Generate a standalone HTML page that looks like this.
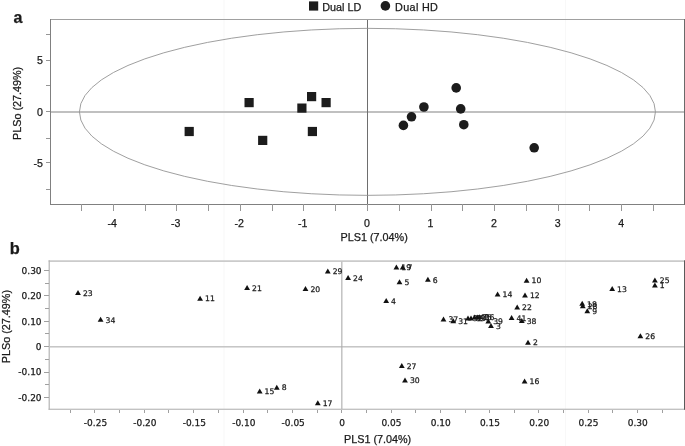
<!DOCTYPE html>
<html><head><meta charset="utf-8"><title>PLS score and loading plots</title>
<style>
html,body{margin:0;padding:0;background:#fff;}
svg{display:block;}
text{font-family:"Liberation Sans",sans-serif;fill:#1a1a1a;stroke:#1a1a1a;stroke-width:0.25px;}
.dj{font-family:"DejaVu Sans","Liberation Sans",sans-serif;}
</style></head><body>
<svg width="685" height="446" viewBox="0 0 685 446">
<rect x="0" y="0" width="685" height="446" fill="#fff"/>
<rect x="223.5" y="0" width="1" height="446" fill="#f8f8f8"/>
<rect x="565" y="0" width="1" height="446" fill="#f8f8f8"/>

<g shape-rendering="crispEdges">
<rect x="51" y="111.1" width="633" height="1.5" fill="#c0c0c0"/>
<rect x="367" y="19" width="1" height="185" fill="#6e6e6e"/>
<rect x="50" y="19" width="634" height="1" fill="#a0a0a0"/>
<rect x="50" y="19" width="1" height="185" fill="#808080"/>
<rect x="50" y="203.5" width="634" height="1" fill="#808080"/>
<rect x="684" y="19" width="1" height="186" fill="#6a6a6a"/>
<rect x="46" y="34.0" width="4" height="1" fill="#969696"/>
<rect x="46" y="59.9" width="4" height="1" fill="#969696"/>
<rect x="46" y="85.0" width="4" height="1" fill="#969696"/>
<rect x="46" y="111.3" width="4" height="1" fill="#969696"/>
<rect x="46" y="137.8" width="4" height="1" fill="#969696"/>
<rect x="46" y="162.4" width="4" height="1" fill="#969696"/>
<rect x="46" y="189.2" width="4" height="1" fill="#969696"/>
<rect x="81.0" y="204" width="1" height="6.5" fill="#969696"/>
<rect x="112.8" y="204" width="1" height="6.5" fill="#969696"/>
<rect x="144.5" y="204" width="1" height="6.5" fill="#969696"/>
<rect x="176.3" y="204" width="1" height="6.5" fill="#969696"/>
<rect x="208.1" y="204" width="1" height="6.5" fill="#969696"/>
<rect x="239.8" y="204" width="1" height="6.5" fill="#969696"/>
<rect x="271.6" y="204" width="1" height="6.5" fill="#969696"/>
<rect x="303.4" y="204" width="1" height="6.5" fill="#969696"/>
<rect x="335.2" y="204" width="1" height="6.5" fill="#969696"/>
<rect x="366.9" y="204" width="1" height="6.5" fill="#969696"/>
<rect x="398.7" y="204" width="1" height="6.5" fill="#969696"/>
<rect x="430.5" y="204" width="1" height="6.5" fill="#969696"/>
<rect x="462.3" y="204" width="1" height="6.5" fill="#969696"/>
<rect x="494.0" y="204" width="1" height="6.5" fill="#969696"/>
<rect x="525.8" y="204" width="1" height="6.5" fill="#969696"/>
<rect x="557.6" y="204" width="1" height="6.5" fill="#969696"/>
<rect x="589.4" y="204" width="1" height="6.5" fill="#969696"/>
<rect x="621.1" y="204" width="1" height="6.5" fill="#969696"/>
<rect x="652.9" y="204" width="1" height="6.5" fill="#969696"/>
</g>
<ellipse cx="367.45" cy="111.85" rx="288" ry="83.5" fill="none" stroke="#949494" stroke-width="0.9"/>
<rect x="184.6" y="126.9" width="9.2" height="9.2" fill="#1c1c1c"/>
<rect x="244.5" y="98.0" width="9.2" height="9.2" fill="#1c1c1c"/>
<rect x="258.1" y="135.8" width="9.2" height="9.2" fill="#1c1c1c"/>
<rect x="297.3" y="103.5" width="9.2" height="9.2" fill="#1c1c1c"/>
<rect x="307.0" y="92.0" width="9.2" height="9.2" fill="#1c1c1c"/>
<rect x="321.5" y="98.0" width="9.2" height="9.2" fill="#1c1c1c"/>
<rect x="307.8" y="126.9" width="9.2" height="9.2" fill="#1c1c1c"/>
<circle cx="403.4" cy="125.4" r="4.8" fill="#1c1c1c"/>
<circle cx="411.5" cy="116.8" r="4.8" fill="#1c1c1c"/>
<circle cx="423.9" cy="107.0" r="4.8" fill="#1c1c1c"/>
<circle cx="456.2" cy="87.9" r="4.8" fill="#1c1c1c"/>
<circle cx="460.7" cy="108.9" r="4.8" fill="#1c1c1c"/>
<circle cx="463.8" cy="124.7" r="4.8" fill="#1c1c1c"/>
<circle cx="534.2" cy="147.8" r="4.8" fill="#1c1c1c"/>
<text x="43" y="64.2" font-size="10.6" text-anchor="end">5</text>
<text x="43" y="115.7" font-size="10.6" text-anchor="end">0</text>
<text x="43" y="167.2" font-size="10.6" text-anchor="end">-5</text>
<text x="112.2" y="226.6" font-size="10.6" text-anchor="middle">-4</text>
<text x="175.7" y="226.6" font-size="10.6" text-anchor="middle">-3</text>
<text x="239.2" y="226.6" font-size="10.6" text-anchor="middle">-2</text>
<text x="302.8" y="226.6" font-size="10.6" text-anchor="middle">-1</text>
<text x="366.9" y="226.6" font-size="10.6" text-anchor="middle">0</text>
<text x="430.5" y="226.6" font-size="10.6" text-anchor="middle">1</text>
<text x="494.0" y="226.6" font-size="10.6" text-anchor="middle">2</text>
<text x="557.6" y="226.6" font-size="10.6" text-anchor="middle">3</text>
<text x="621.1" y="226.6" font-size="10.6" text-anchor="middle">4</text>
<text x="374.2" y="241.3" font-size="10.8" text-anchor="middle">PLS1 (7.04%)</text>
<text transform="translate(21.3,103.4) rotate(-90)" font-size="10.8" text-anchor="middle">PLSo (27.49%)</text>
<text x="13.6" y="23.4" font-size="16" font-weight="bold" fill="#111" stroke="none">a</text>
<rect x="309" y="1.4" width="9.2" height="9.2" fill="#1c1c1c"/>
<text x="322.3" y="11" font-size="10.8">Dual LD</text>
<circle cx="385.4" cy="5.9" r="4.8" fill="#1c1c1c"/>
<text x="395.1" y="11" font-size="10.8" textLength="42.8" lengthAdjust="spacing">Dual HD</text>
<g>
<rect x="50" y="346.1" width="634" height="1.4" fill="#c0c0c0"/>
<rect x="341.3" y="261" width="1.1" height="148" fill="#acacac"/>
<rect x="48.6" y="260.3" width="636" height="1.6" fill="#c6c6c6"/>
<rect x="48.6" y="260.3" width="1.2" height="149.5" fill="#b4b4b4"/>
<rect x="48.6" y="408.7" width="636" height="1.1" fill="#b4b4b4"/>
<rect x="684" y="260.3" width="1" height="149.5" fill="#5a5a5a"/>
</g><g shape-rendering="crispEdges">
<rect x="44.2" y="396.9" width="4.4" height="1" fill="#a0a0a0"/>
<rect x="44.8" y="384.2" width="3.8" height="1" fill="#a0a0a0"/>
<rect x="44.2" y="371.5" width="4.4" height="1" fill="#a0a0a0"/>
<rect x="44.8" y="358.8" width="3.8" height="1" fill="#a0a0a0"/>
<rect x="44.2" y="346.1" width="4.4" height="1" fill="#a0a0a0"/>
<rect x="44.8" y="333.4" width="3.8" height="1" fill="#a0a0a0"/>
<rect x="44.2" y="320.7" width="4.4" height="1" fill="#a0a0a0"/>
<rect x="44.8" y="308.0" width="3.8" height="1" fill="#a0a0a0"/>
<rect x="44.2" y="295.3" width="4.4" height="1" fill="#a0a0a0"/>
<rect x="44.8" y="282.6" width="3.8" height="1" fill="#a0a0a0"/>
<rect x="44.2" y="269.9" width="4.4" height="1" fill="#a0a0a0"/>
<rect x="69.5" y="409.5" width="1" height="3.6" fill="#a0a0a0"/>
<rect x="94.2" y="409.5" width="1" height="3.6" fill="#a0a0a0"/>
<rect x="118.9" y="409.5" width="1" height="3.6" fill="#a0a0a0"/>
<rect x="143.6" y="409.5" width="1" height="3.6" fill="#a0a0a0"/>
<rect x="168.3" y="409.5" width="1" height="3.6" fill="#a0a0a0"/>
<rect x="193.0" y="409.5" width="1" height="3.6" fill="#a0a0a0"/>
<rect x="217.8" y="409.5" width="1" height="3.6" fill="#a0a0a0"/>
<rect x="242.5" y="409.5" width="1" height="3.6" fill="#a0a0a0"/>
<rect x="267.2" y="409.5" width="1" height="3.6" fill="#a0a0a0"/>
<rect x="291.9" y="409.5" width="1" height="3.6" fill="#a0a0a0"/>
<rect x="316.6" y="409.5" width="1" height="3.6" fill="#a0a0a0"/>
<rect x="341.3" y="409.5" width="1" height="3.6" fill="#a0a0a0"/>
<rect x="365.9" y="409.5" width="1" height="3.6" fill="#a0a0a0"/>
<rect x="390.6" y="409.5" width="1" height="3.6" fill="#a0a0a0"/>
<rect x="415.2" y="409.5" width="1" height="3.6" fill="#a0a0a0"/>
<rect x="439.9" y="409.5" width="1" height="3.6" fill="#a0a0a0"/>
<rect x="464.5" y="409.5" width="1" height="3.6" fill="#a0a0a0"/>
<rect x="489.1" y="409.5" width="1" height="3.6" fill="#a0a0a0"/>
<rect x="513.8" y="409.5" width="1" height="3.6" fill="#a0a0a0"/>
<rect x="538.4" y="409.5" width="1" height="3.6" fill="#a0a0a0"/>
<rect x="563.0" y="409.5" width="1" height="3.6" fill="#a0a0a0"/>
<rect x="587.7" y="409.5" width="1" height="3.6" fill="#a0a0a0"/>
<rect x="612.3" y="409.5" width="1" height="3.6" fill="#a0a0a0"/>
<rect x="637.0" y="409.5" width="1" height="3.6" fill="#a0a0a0"/>
<rect x="661.6" y="409.5" width="1" height="3.6" fill="#a0a0a0"/>
</g>
<text class="dj" x="41.6" y="273.7" font-size="9" text-anchor="end">0.30</text>
<text class="dj" x="41.6" y="299.1" font-size="9" text-anchor="end">0.20</text>
<text class="dj" x="41.6" y="324.5" font-size="9" text-anchor="end">0.10</text>
<text class="dj" x="41.6" y="349.9" font-size="9" text-anchor="end">0</text>
<text class="dj" x="41.6" y="375.3" font-size="9" text-anchor="end">-0.10</text>
<text class="dj" x="41.6" y="400.7" font-size="9" text-anchor="end">-0.20</text>
<text class="dj" x="95.5" y="425.8" font-size="9" text-anchor="middle">-0.25</text>
<text class="dj" x="144.9" y="425.8" font-size="9" text-anchor="middle">-0.20</text>
<text class="dj" x="194.3" y="425.8" font-size="9" text-anchor="middle">-0.15</text>
<text class="dj" x="243.8" y="425.8" font-size="9" text-anchor="middle">-0.10</text>
<text class="dj" x="293.2" y="425.8" font-size="9" text-anchor="middle">-0.05</text>
<text class="dj" x="342.1" y="425.8" font-size="9" text-anchor="middle">0</text>
<text class="dj" x="391.4" y="425.8" font-size="9" text-anchor="middle">0.05</text>
<text class="dj" x="440.7" y="425.8" font-size="9" text-anchor="middle">0.10</text>
<text class="dj" x="489.9" y="425.8" font-size="9" text-anchor="middle">0.15</text>
<text class="dj" x="539.2" y="425.8" font-size="9" text-anchor="middle">0.20</text>
<text class="dj" x="588.5" y="425.8" font-size="9" text-anchor="middle">0.25</text>
<text class="dj" x="637.8" y="425.8" font-size="9" text-anchor="middle">0.30</text>
<text x="344" y="443.3" font-size="10.8">PLS1 (7.04%)</text>
<text transform="translate(10.0,326.6) rotate(-90)" font-size="10.8" text-anchor="middle">PLSo (27.49%)</text>
<text x="9.8" y="253.8" font-size="16.4" font-weight="bold" fill="#111" stroke="none">b</text>
<path d="M75.1 294.9L80.9 294.9L78.0 289.9Z" fill="#111"/>
<path d="M97.7 321.8L103.5 321.8L100.6 316.8Z" fill="#111"/>
<path d="M197.2 300.7L203.0 300.7L200.1 295.7Z" fill="#111"/>
<path d="M244.2 290.0L250.0 290.0L247.1 285.0Z" fill="#111"/>
<path d="M302.6 290.9L308.4 290.9L305.5 285.9Z" fill="#111"/>
<path d="M324.9 273.4L330.7 273.4L327.8 268.4Z" fill="#111"/>
<path d="M345.2 280.1L351.0 280.1L348.1 275.1Z" fill="#111"/>
<path d="M393.5 269.4L399.3 269.4L396.4 264.4Z" fill="#111"/>
<path d="M399.8 269.4L405.6 269.4L402.7 264.4Z" fill="#111"/>
<path d="M396.6 284.3L402.4 284.3L399.5 279.3Z" fill="#111"/>
<path d="M425.0 281.8L430.8 281.8L427.9 276.8Z" fill="#111"/>
<path d="M383.3 303.1L389.1 303.1L386.2 298.1Z" fill="#111"/>
<path d="M440.6 321.6L446.4 321.6L443.5 316.6Z" fill="#111"/>
<path d="M450.4 323.2L456.2 323.2L453.3 318.2Z" fill="#111"/>
<path d="M465.1 320.5L470.9 320.5L468.0 315.5Z" fill="#111"/>
<path d="M468.1 320.4L473.9 320.4L471.0 315.4Z" fill="#111"/>
<path d="M471.6 319.6L477.4 319.6L474.5 314.6Z" fill="#111"/>
<path d="M474.4 319.4L480.2 319.4L477.3 314.4Z" fill="#111"/>
<path d="M476.7 319.2L482.5 319.2L479.6 314.2Z" fill="#111"/>
<path d="M485.4 323.4L491.2 323.4L488.3 318.4Z" fill="#111"/>
<path d="M488.1 327.9L493.9 327.9L491.0 322.9Z" fill="#111"/>
<path d="M514.3 309.4L520.1 309.4L517.2 304.4Z" fill="#111"/>
<path d="M508.7 320.0L514.5 320.0L511.6 315.0Z" fill="#111"/>
<path d="M518.9 323.1L524.7 323.1L521.8 318.1Z" fill="#111"/>
<path d="M523.7 282.7L529.5 282.7L526.6 277.7Z" fill="#111"/>
<path d="M494.7 296.6L500.5 296.6L497.6 291.6Z" fill="#111"/>
<path d="M522.1 297.4L527.9 297.4L525.0 292.4Z" fill="#111"/>
<path d="M579.3 305.8L585.1 305.8L582.2 300.8Z" fill="#111"/>
<path d="M579.9 308.2L585.7 308.2L582.8 303.2Z" fill="#111"/>
<path d="M584.4 313.2L590.2 313.2L587.3 308.2Z" fill="#111"/>
<path d="M609.3 290.9L615.1 290.9L612.2 285.9Z" fill="#111"/>
<path d="M652.0 282.6L657.8 282.6L654.9 277.6Z" fill="#111"/>
<path d="M652.0 287.6L657.8 287.6L654.9 282.6Z" fill="#111"/>
<path d="M637.5 338.3L643.3 338.3L640.4 333.3Z" fill="#111"/>
<path d="M256.8 393.6L262.6 393.6L259.7 388.6Z" fill="#111"/>
<path d="M273.9 389.7L279.7 389.7L276.8 384.7Z" fill="#111"/>
<path d="M314.9 405.2L320.7 405.2L317.8 400.2Z" fill="#111"/>
<path d="M398.9 368.1L404.7 368.1L401.8 363.1Z" fill="#111"/>
<path d="M402.1 382.6L407.9 382.6L405.0 377.6Z" fill="#111"/>
<path d="M525.1 344.7L530.9 344.7L528.0 339.7Z" fill="#111"/>
<path d="M521.7 383.4L527.5 383.4L524.6 378.4Z" fill="#111"/>
<text class="dj" x="82.9" y="295.6" font-size="7.7" stroke-width="0.2">23</text>
<text class="dj" x="105.5" y="322.5" font-size="7.7" stroke-width="0.2">34</text>
<text class="dj" x="205.0" y="301.4" font-size="7.7" stroke-width="0.2">11</text>
<text class="dj" x="252.0" y="290.7" font-size="7.7" stroke-width="0.2">21</text>
<text class="dj" x="310.4" y="291.6" font-size="7.7" stroke-width="0.2">20</text>
<text class="dj" x="332.7" y="274.1" font-size="7.7" stroke-width="0.2">29</text>
<text class="dj" x="353.0" y="280.8" font-size="7.7" stroke-width="0.2">24</text>
<text class="dj" x="401.3" y="270.1" font-size="7.7" stroke-width="0.2">19</text>
<text class="dj" x="407.6" y="270.1" font-size="7.7" stroke-width="0.2">7</text>
<text class="dj" x="404.4" y="285.0" font-size="7.7" stroke-width="0.2">5</text>
<text class="dj" x="432.8" y="282.5" font-size="7.7" stroke-width="0.2">6</text>
<text class="dj" x="391.1" y="303.8" font-size="7.7" stroke-width="0.2">4</text>
<text class="dj" x="448.4" y="322.3" font-size="7.7" stroke-width="0.2">37</text>
<text class="dj" x="458.2" y="323.9" font-size="7.7" stroke-width="0.2">31</text>
<text class="dj" x="472.9" y="321.2" font-size="7.7" stroke-width="0.2">32</text>
<text class="dj" x="475.9" y="321.1" font-size="7.7" stroke-width="0.2">33</text>
<text class="dj" x="479.4" y="320.3" font-size="7.7" stroke-width="0.2">40</text>
<text class="dj" x="482.2" y="320.1" font-size="7.7" stroke-width="0.2">35</text>
<text class="dj" x="484.5" y="319.9" font-size="7.7" stroke-width="0.2">36</text>
<text class="dj" x="493.2" y="324.1" font-size="7.7" stroke-width="0.2">39</text>
<text class="dj" x="495.9" y="328.6" font-size="7.7" stroke-width="0.2">3</text>
<text class="dj" x="522.1" y="310.1" font-size="7.7" stroke-width="0.2">22</text>
<text class="dj" x="516.5" y="320.7" font-size="7.7" stroke-width="0.2">41</text>
<text class="dj" x="526.7" y="323.8" font-size="7.7" stroke-width="0.2">38</text>
<text class="dj" x="531.5" y="283.4" font-size="7.7" stroke-width="0.2">10</text>
<text class="dj" x="502.5" y="297.3" font-size="7.7" stroke-width="0.2">14</text>
<text class="dj" x="529.9" y="298.1" font-size="7.7" stroke-width="0.2">12</text>
<text class="dj" x="587.1" y="306.5" font-size="7.7" stroke-width="0.2">18</text>
<text class="dj" x="587.7" y="308.9" font-size="7.7" stroke-width="0.2">28</text>
<text class="dj" x="592.2" y="313.9" font-size="7.7" stroke-width="0.2">9</text>
<text class="dj" x="617.1" y="291.6" font-size="7.7" stroke-width="0.2">13</text>
<text class="dj" x="659.8" y="283.3" font-size="7.7" stroke-width="0.2">25</text>
<text class="dj" x="659.8" y="288.3" font-size="7.7" stroke-width="0.2">1</text>
<text class="dj" x="645.3" y="339.0" font-size="7.7" stroke-width="0.2">26</text>
<text class="dj" x="264.6" y="394.3" font-size="7.7" stroke-width="0.2">15</text>
<text class="dj" x="281.7" y="390.4" font-size="7.7" stroke-width="0.2">8</text>
<text class="dj" x="322.7" y="405.9" font-size="7.7" stroke-width="0.2">17</text>
<text class="dj" x="406.7" y="368.8" font-size="7.7" stroke-width="0.2">27</text>
<text class="dj" x="409.9" y="383.3" font-size="7.7" stroke-width="0.2">30</text>
<text class="dj" x="532.9" y="345.4" font-size="7.7" stroke-width="0.2">2</text>
<text class="dj" x="529.5" y="384.1" font-size="7.7" stroke-width="0.2">16</text>
</svg></body></html>
